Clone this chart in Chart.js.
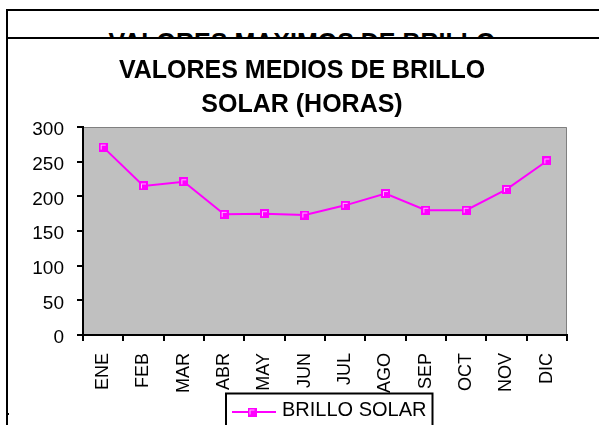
<!DOCTYPE html>
<html>
<head>
<meta charset="utf-8">
<title>Valores medios de brillo solar</title>
<script src="https://cdn.jsdelivr.net/npm/chart.js"></script>
<style>
    html, body { margin: 0; padding: 0; background: #fff; }
    body {
        width: 599px; height: 425px; position: relative; overflow: hidden;
        font-family: 'Liberation Sans', Arial, sans-serif;
    }
    .frame { position: absolute; border-top: 2px solid #000; border-left: 2px solid #000; }
    #backFrame { left: 6px; top: 9px; width: 600px; height: 420px; }
    #backTitle {
        position: absolute; left: 0; top: 30px; width: 604px;
        text-align: center; font-weight: bold; font-size: 25px; line-height: 25px; white-space: nowrap;
    }
    #frontFrame { left: 6px; top: 37px; width: 600px; height: 400px; background: #fff; }
    #stub { position: absolute; left: 8px; top: 413px; width: 1px; height: 2px; background: #000; }
    #chartSolar { position: absolute; left: 0; top: 0; }
</style>
</head>
<body>
<div class="frame" id="backFrame"></div>
<div id="backTitle">VALORES MAXIMOS DE BRILLO</div>
<div class="frame" id="frontFrame"></div>
<div id="stub"></div>
<canvas id="chartSolar" width="599" height="425"></canvas>

<script>
// Datos del grafico
const meses = ['ENE', 'FEB', 'MAR', 'ABR', 'MAY', 'JUN', 'JUL', 'AGO', 'SEP', 'OCT', 'NOV', 'DIC'];
const brilloSolar = [271, 215, 221, 174, 175, 173, 187, 204, 180, 180, 210, 251];
const ticksY = [0, 50, 100, 150, 200, 250, 300];
const tituloGrafico = ['VALORES MEDIOS DE BRILLO', 'SOLAR (HORAS)'];
const nombreSerie = 'BRILLO SOLAR';

const MAGENTA = '#ff00ff';
const FONT = "'Liberation Sans', Arial, sans-serif";

// square marker with the light inner corner, like the old Excel one
function makeMarker() {
    const c = document.createElement('canvas');
    c.width = 9;
    c.height = 9;
    const g = c.getContext('2d');
    g.fillStyle = MAGENTA;
    g.fillRect(0, 0, 9, 9);
    g.fillStyle = '#ffb0ff';
    g.fillRect(2, 2, 5, 1);
    g.fillRect(2, 2, 1, 5);
    return c;
}
const marker = makeMarker();

// gray plot area with thin top/right border
const plotBackground = {
    id: 'plotBackground',
    beforeDraw(chart) {
        const { ctx, chartArea: a } = chart;
        ctx.save();
        ctx.fillStyle = '#c0c0c0';
        ctx.fillRect(a.left, a.top, a.right - a.left, a.bottom - a.top);
        ctx.strokeStyle = '#808080';
        ctx.lineWidth = 1;
        ctx.beginPath();
        ctx.moveTo(a.left, a.top + 0.5);
        ctx.lineTo(a.right - 0.5, a.top + 0.5);
        ctx.lineTo(a.right - 0.5, a.bottom);
        ctx.stroke();
        ctx.restore();
    }
};

// the title in the original is centred on the whole frame, not on the plot
const titleCenter = {
    id: 'titleCenter',
    afterLayout(chart) {
        const t = chart.titleBlock;
        if (t) {
            t.left = 37;
            t.width = t.right - t.left;
        }
    }
};

// legend inside a white box that sits over the month labels
const boxedLegend = {
    id: 'boxedLegend',
    afterDraw(chart) {
        const ctx = chart.ctx;
        const ds = chart.data.datasets[0];
        const left = 226, top = 393.5, cy = 412;
        ctx.save();
        ctx.font = '20px ' + FONT;
        const textW = ctx.measureText(ds.label).width;
        const w = 56 + textW + 6;
        ctx.fillStyle = '#fff';
        ctx.fillRect(left, top, w, chart.height - top + 5);
        ctx.strokeStyle = '#000';
        ctx.lineWidth = 2;
        ctx.strokeRect(left, top, w, chart.height - top + 10);

        ctx.strokeStyle = ds.borderColor;
        ctx.lineWidth = ds.borderWidth;
        ctx.beginPath();
        ctx.moveTo(left + 6, cy);
        ctx.lineTo(left + 50, cy);
        ctx.stroke();
        ctx.drawImage(ds.pointStyle, left + 26 - 4.5, cy - 4.5);

        ctx.fillStyle = '#000';
        ctx.textBaseline = 'middle';
        ctx.textAlign = 'left';
        ctx.fillText(ds.label, left + 56, cy - 1.5);
        ctx.restore();
    }
};

Chart.defaults.font.family = FONT;

const axisGrid = {
    drawOnChartArea: false,
    drawTicks: true,
    tickLength: 6,
    color: '#000',
    lineWidth: 2
};

new Chart(document.getElementById('chartSolar'), {
    type: 'line',
    data: {
        labels: meses,
        datasets: [{
            label: nombreSerie,
            data: brilloSolar,
            borderColor: MAGENTA,
            backgroundColor: MAGENTA,
            borderWidth: 2,
            pointStyle: marker,
            pointRadius: 4.5,
            pointHoverRadius: 4.5,
            tension: 0,
            fill: false
        }]
    },
    options: {
        responsive: false,
        animation: false,
        events: [],
        layout: { padding: { left: 0, right: 32, top: 0, bottom: 0 } },
        plugins: {
            legend: { display: false },
            tooltip: { enabled: false },
            title: {
                display: true,
                text: tituloGrafico,
                color: '#000',
                font: { family: FONT, size: 25, weight: 'bold', lineHeight: 1.372 },
                padding: { top: 54, bottom: 4.4 }
            }
        },
        scales: {
            x: {
                offset: true,
                grid: Object.assign({ offset: true }, axisGrid),
                border: { display: true, color: '#000', width: 2 },
                ticks: {
                    color: '#000',
                    font: { size: 18 },
                    minRotation: 90,
                    maxRotation: 90,
                    autoSkip: false,
                    padding: 12
                },
                afterFit(scale) { scale.height = 90; }
            },
            y: {
                min: 0,
                max: 300,
                afterBuildTicks(scale) {
                    scale.ticks = ticksY.map(v => ({ value: v }));
                },
                grid: axisGrid,
                border: { display: true, color: '#000', width: 2 },
                ticks: {
                    color: '#000',
                    font: { size: 19 },
                    padding: 13,
                    labelOffset: 3
                },
                afterFit(scale) { scale.width = 83; }
            }
        }
    },
    plugins: [plotBackground, titleCenter, boxedLegend]
});
</script>
</body>
</html>
